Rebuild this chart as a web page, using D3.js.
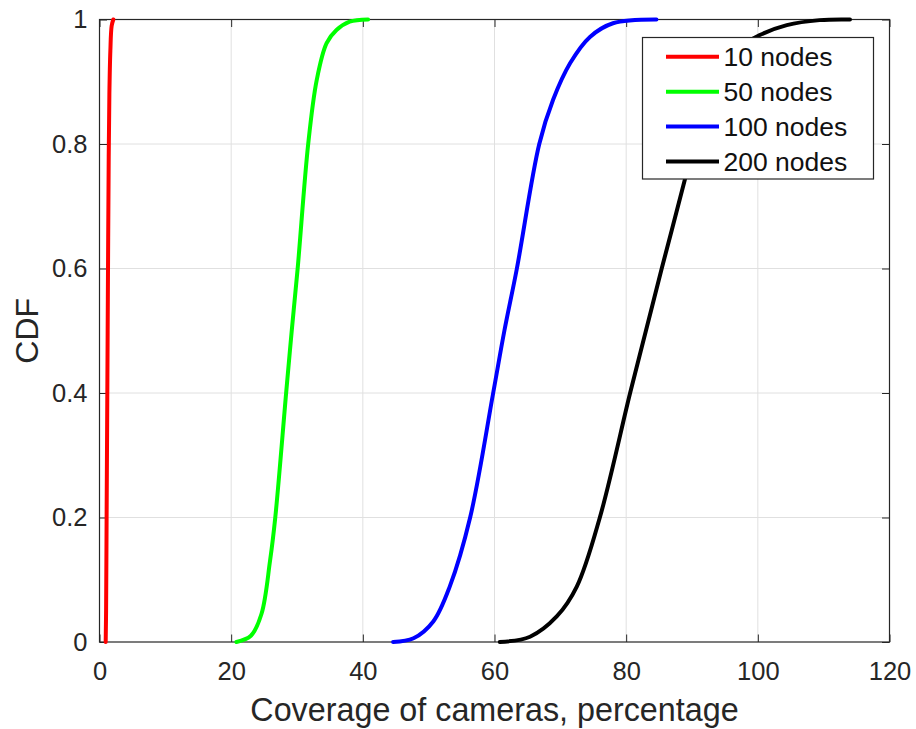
<!DOCTYPE html>
<html>
<head>
<meta charset="utf-8">
<script src="https://cdn.jsdelivr.net/npm/d3@7/dist/d3.min.js"></script>
<style>
  html, body { margin: 0; padding: 0; background: #fff; }
  svg { display: block; font-family: "Liberation Sans", Arial, Helvetica, sans-serif; }
</style>
</head>
<body>
<svg id="chart" width="916" height="729"></svg>
<script>
// Coverage (%) reached at each CDF level, one array pair per network size
const seriesNames = ["10 nodes", "50 nodes", "100 nodes", "200 nodes"];
const seriesColors = ["#ff0000", "#00ff00", "#0000ff", "#000000"];

const cov10 = [0.94, 1.0, 1.08, 1.16, 1.24, 1.32, 1.40, 1.50, 1.65, 1.85, 2.1];
const cdf10 = [0, 0.05, 0.2, 0.35, 0.5, 0.65, 0.78, 0.88, 0.95, 0.99, 1.0];

const cov50 = [20.8, 23.0, 24.6, 25.9, 26.7, 28.35, 29.2, 30.1, 31.7, 33.0, 34.5, 36.0, 38.0, 40.8];
const cdf50 = [0, 0.01, 0.045, 0.13, 0.2, 0.4, 0.5, 0.6, 0.8, 0.903, 0.962, 0.983, 0.9965, 1.0];

const cov100 = [44.6, 47.7, 50.7, 53.2, 56.3, 59.8, 61.5, 63.4, 66.8, 68.9, 71.5, 74.5, 78.0, 84.6];
const cdf100 = [0, 0.006, 0.033, 0.089, 0.2, 0.4, 0.5, 0.6, 0.8, 0.871, 0.93, 0.972, 0.994, 1.0];

const cov200 = [60.8, 65.4, 69.45, 72.5, 76.0, 80.6, 83.0, 85.4, 88.9, 90.2, 91.6, 93.4, 96.5, 100.3, 104.4, 109.4, 114.0];
const cdf200 = [0, 0.0085, 0.041, 0.089, 0.2, 0.4, 0.5, 0.6, 0.742, 0.8, 0.85, 0.9, 0.95, 0.975, 0.991, 0.999, 1.0];

const xTicks = [0, 20, 40, 60, 80, 100, 120];
const yTicks = [0, 0.2, 0.4, 0.6, 0.8, 1];
const yTickLabels = ["0", "0.2", "0.4", "0.6", "0.8", "1"];

const xLabel = "Coverage of cameras, percentage";
const yLabel = "CDF";

const seriesCov = [cov10, cov50, cov100, cov200];
const seriesCdf = [cdf10, cdf50, cdf100, cdf200];

// ---- layout ----
const plot = { left: 99.5, right: 889.5, top: 19.5, bottom: 642 };
const axisColor = "#262626";
const gridColor = "#e0e0e0";
const tickLen = 7.5;

const svg = d3.select("#chart");

const x = d3.scaleLinear().domain([0, 120]).range([plot.left, plot.right]);
const y = d3.scaleLinear().domain([0, 1]).range([plot.bottom, plot.top]);

// grid lines
const grid = svg.append("g");
grid.selectAll("line.gx").data(xTicks.slice(1, -1)).enter().append("line")
  .attr("x1", d => x(d)).attr("x2", d => x(d))
  .attr("y1", plot.top).attr("y2", plot.bottom)
  .attr("stroke", gridColor).attr("stroke-width", 1);
grid.selectAll("line.gy").data(yTicks.slice(1, -1)).enter().append("line")
  .attr("y1", d => y(d)).attr("y2", d => y(d))
  .attr("x1", plot.left).attr("x2", plot.right)
  .attr("stroke", gridColor).attr("stroke-width", 1);

// axes (ticks pointing inward, on all four sides)
function styleAxis(g) {
  g.select(".domain").remove();
  g.selectAll(".tick line").attr("stroke", axisColor).attr("stroke-width", 1);
  g.selectAll(".tick text").attr("fill", axisColor).attr("font-size", 25.5);
}

svg.append("g")
  .attr("transform", `translate(0,${plot.bottom})`)
  .call(d3.axisBottom(x).tickValues(xTicks).tickSize(-tickLen).tickPadding(20).tickFormat(d3.format("d")))
  .call(styleAxis)
  .call(g => g.selectAll(".tick text").attr("dy", "0.71em"));

svg.append("g")
  .attr("transform", `translate(0,${plot.top})`)
  .call(d3.axisTop(x).tickValues(xTicks).tickSize(-tickLen).tickFormat(""))
  .call(styleAxis);

svg.append("g")
  .attr("transform", `translate(${plot.left},0)`)
  .call(d3.axisLeft(y).tickValues(yTicks).tickSize(-tickLen).tickPadding(12)
    .tickFormat((d, i) => yTickLabels[i]))
  .call(styleAxis);

svg.append("g")
  .attr("transform", `translate(${plot.right},0)`)
  .call(d3.axisRight(y).tickValues(yTicks).tickSize(-tickLen).tickFormat(""))
  .call(styleAxis);

// box
svg.append("rect")
  .attr("x", plot.left).attr("y", plot.top)
  .attr("width", plot.right - plot.left).attr("height", plot.bottom - plot.top)
  .attr("fill", "none").attr("stroke", axisColor).attr("stroke-width", 1.2);

// curves: smooth centripetal spline through the sampled CDF points
const line = d3.line()
  .x(d => x(d[0]))
  .y(d => y(d[1]))
  .curve(d3.curveCatmullRom.alpha(0.5));

const curves = svg.append("g");
seriesNames.forEach((name, i) => {
  const pts = seriesCov[i].map((c, j) => [c, seriesCdf[i][j]]);
  curves.append("path")
    .datum(pts)
    .attr("d", line)
    .attr("fill", "none")
    .attr("stroke", seriesColors[i])
    .attr("stroke-width", 4)
    .attr("stroke-linejoin", "round")
    .attr("stroke-linecap", "round");
});

// axis titles
svg.append("text")
  .attr("x", (plot.left + plot.right) / 2)
  .attr("y", 721)
  .attr("text-anchor", "middle")
  .attr("fill", axisColor)
  .attr("font-size", 32.3)
  .text(xLabel);

svg.append("text")
  .attr("transform", `translate(38,${(plot.top + plot.bottom) / 2}) rotate(-90)`)
  .attr("text-anchor", "middle")
  .attr("fill", axisColor)
  .attr("font-size", 32)
  .text(yLabel);

// legend
const legend = { x: 642.5, y: 37.5, w: 231, h: 141.5, rowH: 34.9, firstRow: 56.8 };
const lg = svg.append("g");
lg.append("rect")
  .attr("x", legend.x).attr("y", legend.y)
  .attr("width", legend.w).attr("height", legend.h)
  .attr("fill", "#fff").attr("stroke", axisColor).attr("stroke-width", 1.2);

const rows = lg.selectAll("g.row").data(seriesNames).enter().append("g")
  .attr("transform", (d, i) => `translate(0,${legend.firstRow + i * legend.rowH})`);
rows.append("line")
  .attr("x1", 666).attr("x2", 719)
  .attr("y1", 0).attr("y2", 0)
  .attr("stroke", (d, i) => seriesColors[i])
  .attr("stroke-width", 4);
rows.append("text")
  .attr("x", 723.5)
  .attr("y", 0)
  .attr("dy", "0.36em")
  .attr("fill", "#111")
  .attr("font-size", 26.5)
  .text(d => d);
</script>
</body>
</html>
